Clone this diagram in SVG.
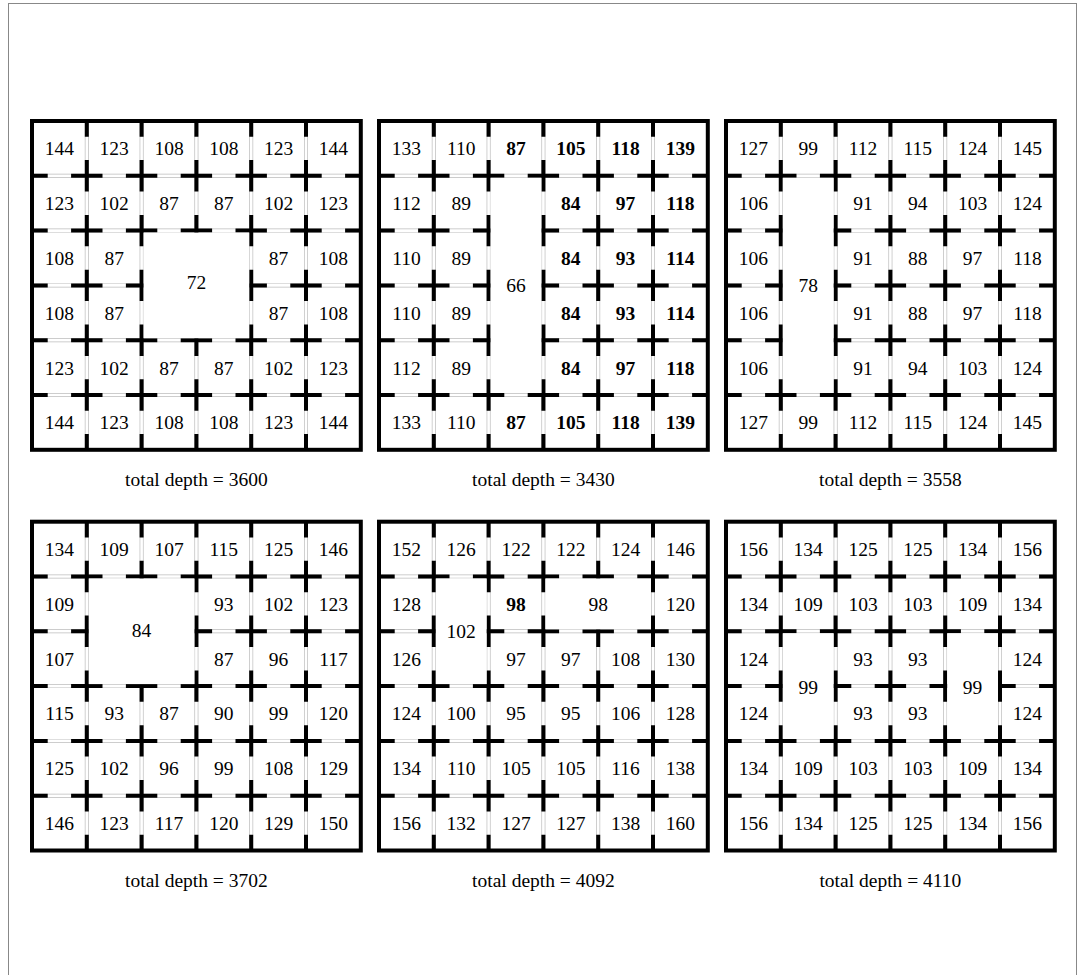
<svg xmlns="http://www.w3.org/2000/svg" xmlns:xlink="http://www.w3.org/1999/xlink" width="1086" height="975" viewBox="0 0 1086 975">
<style>
.door{stroke:#bcbcbc;stroke-width:4;fill:none}
.doorw{stroke:#ffffff;stroke-width:2.6;fill:none}
.wall{stroke:#000;stroke-width:4;fill:none;stroke-dasharray:15.7 23.4 31.4 23.4 31.4 23.4 31.4 23.4 31.4 23.4 31.4 23.4 15.7}
.frame{stroke:#000;stroke-width:4;fill:none}
.room{fill:#fff;stroke:none}
.n{font-family:"Liberation Serif","Times New Roman",serif;font-size:19.5px;text-anchor:middle;fill:#000}
.b{font-weight:bold}
.lbl{font-family:"Liberation Serif","Times New Roman",serif;font-size:19.5px;text-anchor:middle;fill:#000}
</style>
<defs>
<g id="lines">
<path class="door" d="M0 54.8H328.8M0 109.6H328.8M0 164.4H328.8M0 219.2H328.8M0 274H328.8M54.8 0V328.8M109.6 0V328.8M164.4 0V328.8M219.2 0V328.8M274 0V328.8"/>
<path class="doorw" d="M0 54.8H328.8M0 109.6H328.8M0 164.4H328.8M0 219.2H328.8M0 274H328.8M54.8 0V328.8M109.6 0V328.8M164.4 0V328.8M219.2 0V328.8M274 0V328.8"/>
<path class="wall" d="M0 54.8H328.8M0 109.6H328.8M0 164.4H328.8M0 219.2H328.8M0 274H328.8M54.8 0V328.8M109.6 0V328.8M164.4 0V328.8M219.2 0V328.8M274 0V328.8"/>
<rect class="frame" x="0" y="0" width="328.8" height="328.8"/>
</g>
</defs>
<rect x="0" y="0" width="1086" height="975" fill="#fff"/>
<rect x="8.5" y="3.5" width="1068" height="990" fill="none" stroke="#888" stroke-width="1"/>

<g id="grid1" transform="translate(32,121)">
<use xlink:href="#lines"/>
<rect class="room" x="111.6" y="111.6" width="105.6" height="105.6"/>
<g class="n">
<text x="27.4" y="34.4">144</text><text x="82.2" y="34.4">123</text><text x="137" y="34.4">108</text><text x="191.8" y="34.4">108</text><text x="246.6" y="34.4">123</text><text x="301.4" y="34.4">144</text>
<text x="27.4" y="89.2">123</text><text x="82.2" y="89.2">102</text><text x="137" y="89.2">87</text><text x="191.8" y="89.2">87</text><text x="246.6" y="89.2">102</text><text x="301.4" y="89.2">123</text>
<text x="27.4" y="144">108</text><text x="82.2" y="144">87</text><text x="246.6" y="144">87</text><text x="301.4" y="144">108</text>
<text x="164.4" y="168.4">72</text>
<text x="27.4" y="198.8">108</text><text x="82.2" y="198.8">87</text><text x="246.6" y="198.8">87</text><text x="301.4" y="198.8">108</text>
<text x="27.4" y="253.6">123</text><text x="82.2" y="253.6">102</text><text x="137" y="253.6">87</text><text x="191.8" y="253.6">87</text><text x="246.6" y="253.6">102</text><text x="301.4" y="253.6">123</text>
<text x="27.4" y="308.4">144</text><text x="82.2" y="308.4">123</text><text x="137" y="308.4">108</text><text x="191.8" y="308.4">108</text><text x="246.6" y="308.4">123</text><text x="301.4" y="308.4">144</text>
</g>
</g>

<g id="grid2" transform="translate(379,121)">
<use xlink:href="#lines"/>
<rect class="room" x="111.6" y="56.8" width="50.8" height="215.2"/>
<g class="n">
<text x="27.4" y="34.4">133</text><text x="82.2" y="34.4">110</text><text class="b" x="137" y="34.4">87</text><text class="b" x="191.8" y="34.4">105</text><text class="b" x="246.6" y="34.4">118</text><text class="b" x="301.4" y="34.4">139</text>
<text x="27.4" y="89.2">112</text><text x="82.2" y="89.2">89</text><text class="b" x="191.8" y="89.2">84</text><text class="b" x="246.6" y="89.2">97</text><text class="b" x="301.4" y="89.2">118</text>
<text x="27.4" y="144">110</text><text x="82.2" y="144">89</text><text class="b" x="191.8" y="144">84</text><text class="b" x="246.6" y="144">93</text><text class="b" x="301.4" y="144">114</text>
<text x="137" y="171.4">66</text>
<text x="27.4" y="198.8">110</text><text x="82.2" y="198.8">89</text><text class="b" x="191.8" y="198.8">84</text><text class="b" x="246.6" y="198.8">93</text><text class="b" x="301.4" y="198.8">114</text>
<text x="27.4" y="253.6">112</text><text x="82.2" y="253.6">89</text><text class="b" x="191.8" y="253.6">84</text><text class="b" x="246.6" y="253.6">97</text><text class="b" x="301.4" y="253.6">118</text>
<text x="27.4" y="308.4">133</text><text x="82.2" y="308.4">110</text><text class="b" x="137" y="308.4">87</text><text class="b" x="191.8" y="308.4">105</text><text class="b" x="246.6" y="308.4">118</text><text class="b" x="301.4" y="308.4">139</text>
</g>
</g>

<g id="grid3" transform="translate(726,121)">
<use xlink:href="#lines"/>
<rect class="room" x="56.8" y="56.8" width="50.8" height="215.2"/>
<g class="n">
<text x="27.4" y="34.4">127</text><text x="82.2" y="34.4">99</text><text x="137" y="34.4">112</text><text x="191.8" y="34.4">115</text><text x="246.6" y="34.4">124</text><text x="301.4" y="34.4">145</text>
<text x="27.4" y="89.2">106</text><text x="137" y="89.2">91</text><text x="191.8" y="89.2">94</text><text x="246.6" y="89.2">103</text><text x="301.4" y="89.2">124</text>
<text x="27.4" y="144">106</text><text x="137" y="144">91</text><text x="191.8" y="144">88</text><text x="246.6" y="144">97</text><text x="301.4" y="144">118</text>
<text x="82.2" y="171.4">78</text>
<text x="27.4" y="198.8">106</text><text x="137" y="198.8">91</text><text x="191.8" y="198.8">88</text><text x="246.6" y="198.8">97</text><text x="301.4" y="198.8">118</text>
<text x="27.4" y="253.6">106</text><text x="137" y="253.6">91</text><text x="191.8" y="253.6">94</text><text x="246.6" y="253.6">103</text><text x="301.4" y="253.6">124</text>
<text x="27.4" y="308.4">127</text><text x="82.2" y="308.4">99</text><text x="137" y="308.4">112</text><text x="191.8" y="308.4">115</text><text x="246.6" y="308.4">124</text><text x="301.4" y="308.4">145</text>
</g>
</g>

<g id="grid4" transform="translate(32,521.7)">
<use xlink:href="#lines"/>
<rect class="room" x="56.8" y="56.8" width="105.6" height="105.6"/>
<g class="n">
<text x="27.4" y="34.4">134</text><text x="82.2" y="34.4">109</text><text x="137" y="34.4">107</text><text x="191.8" y="34.4">115</text><text x="246.6" y="34.4">125</text><text x="301.4" y="34.4">146</text>
<text x="27.4" y="89.2">109</text><text x="191.8" y="89.2">93</text><text x="246.6" y="89.2">102</text><text x="301.4" y="89.2">123</text>
<text x="109.6" y="115.6">84</text>
<text x="27.4" y="144">107</text><text x="191.8" y="144">87</text><text x="246.6" y="144">96</text><text x="301.4" y="144">117</text>
<text x="27.4" y="198.8">115</text><text x="82.2" y="198.8">93</text><text x="137" y="198.8">87</text><text x="191.8" y="198.8">90</text><text x="246.6" y="198.8">99</text><text x="301.4" y="198.8">120</text>
<text x="27.4" y="253.6">125</text><text x="82.2" y="253.6">102</text><text x="137" y="253.6">96</text><text x="191.8" y="253.6">99</text><text x="246.6" y="253.6">108</text><text x="301.4" y="253.6">129</text>
<text x="27.4" y="308.4">146</text><text x="82.2" y="308.4">123</text><text x="137" y="308.4">117</text><text x="191.8" y="308.4">120</text><text x="246.6" y="308.4">129</text><text x="301.4" y="308.4">150</text>
</g>
</g>

<g id="grid5" transform="translate(379,521.7)">
<use xlink:href="#lines"/>
<rect class="room" x="56.8" y="56.8" width="50.8" height="105.6"/>
<rect class="room" x="166.4" y="56.8" width="105.6" height="50.8"/>
<g class="n">
<text x="27.4" y="34.4">152</text><text x="82.2" y="34.4">126</text><text x="137" y="34.4">122</text><text x="191.8" y="34.4">122</text><text x="246.6" y="34.4">124</text><text x="301.4" y="34.4">146</text>
<text x="27.4" y="89.2">128</text><text class="b" x="137" y="89.2">98</text><text x="219.2" y="89.2">98</text><text x="301.4" y="89.2">120</text>
<text x="82.2" y="116.6">102</text>
<text x="27.4" y="144">126</text><text x="137" y="144">97</text><text x="191.8" y="144">97</text><text x="246.6" y="144">108</text><text x="301.4" y="144">130</text>
<text x="27.4" y="198.8">124</text><text x="82.2" y="198.8">100</text><text x="137" y="198.8">95</text><text x="191.8" y="198.8">95</text><text x="246.6" y="198.8">106</text><text x="301.4" y="198.8">128</text>
<text x="27.4" y="253.6">134</text><text x="82.2" y="253.6">110</text><text x="137" y="253.6">105</text><text x="191.8" y="253.6">105</text><text x="246.6" y="253.6">116</text><text x="301.4" y="253.6">138</text>
<text x="27.4" y="308.4">156</text><text x="82.2" y="308.4">132</text><text x="137" y="308.4">127</text><text x="191.8" y="308.4">127</text><text x="246.6" y="308.4">138</text><text x="301.4" y="308.4">160</text>
</g>
</g>

<g id="grid6" transform="translate(726,521.7)">
<use xlink:href="#lines"/>
<rect class="room" x="56.8" y="111.6" width="50.8" height="105.6"/>
<rect class="room" x="221.2" y="111.6" width="50.8" height="105.6"/>
<g class="n">
<text x="27.4" y="34.4">156</text><text x="82.2" y="34.4">134</text><text x="137" y="34.4">125</text><text x="191.8" y="34.4">125</text><text x="246.6" y="34.4">134</text><text x="301.4" y="34.4">156</text>
<text x="27.4" y="89.2">134</text><text x="82.2" y="89.2">109</text><text x="137" y="89.2">103</text><text x="191.8" y="89.2">103</text><text x="246.6" y="89.2">109</text><text x="301.4" y="89.2">134</text>
<text x="27.4" y="144">124</text><text x="137" y="144">93</text><text x="191.8" y="144">93</text><text x="301.4" y="144">124</text>
<text x="82.2" y="172">99</text><text x="246.6" y="172">99</text>
<text x="27.4" y="198.8">124</text><text x="137" y="198.8">93</text><text x="191.8" y="198.8">93</text><text x="301.4" y="198.8">124</text>
<text x="27.4" y="253.6">134</text><text x="82.2" y="253.6">109</text><text x="137" y="253.6">103</text><text x="191.8" y="253.6">103</text><text x="246.6" y="253.6">109</text><text x="301.4" y="253.6">134</text>
<text x="27.4" y="308.4">156</text><text x="82.2" y="308.4">134</text><text x="137" y="308.4">125</text><text x="191.8" y="308.4">125</text><text x="246.6" y="308.4">134</text><text x="301.4" y="308.4">156</text>
</g>
</g>

<g id="labels" class="lbl">
<text x="196.4" y="486">total depth = 3600</text>
<text x="543.4" y="486">total depth = 3430</text>
<text x="890.4" y="486">total depth = 3558</text>
<text x="196.4" y="886.5">total depth = 3702</text>
<text x="543.4" y="886.5">total depth = 4092</text>
<text x="890.4" y="886.5">total depth = 4110</text>
</g>
</svg>
